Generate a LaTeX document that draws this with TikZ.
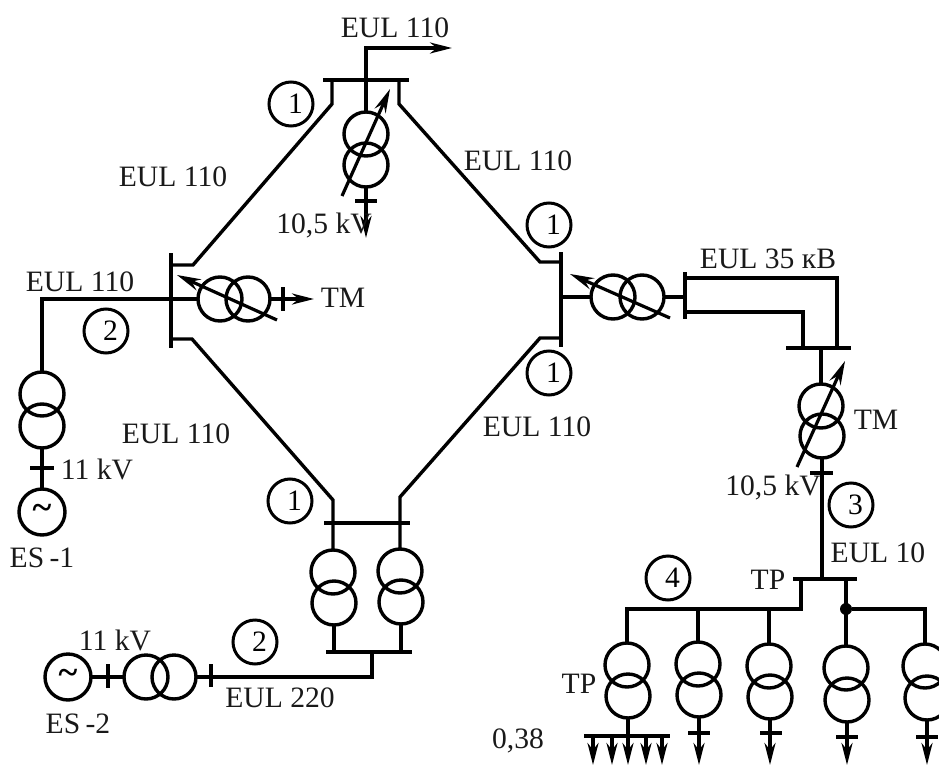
\documentclass[tikz,border=0pt]{standalone}
\usepackage{fontspec}
\setmainfont{Liberation Serif}
\usetikzlibrary{arrows.meta}
\newcommand{\numtext}[1]{\hspace*{9pt}#1}
\tikzset{
  x=1pt,y=-1pt,
  wire/.style={line width=3.4pt,line cap=butt,line join=miter},
  feed/.style={wire,-{Stealth[length=22pt,width=11pt,inset=7pt]}},
  reg/.style={line width=3.2pt,-{Stealth[length=24pt,width=12pt,inset=8pt]}},
  xf/.style={circle,draw,line width=3.4pt,minimum size=44pt,inner sep=0pt,outer sep=0pt},
  gen/.style={xf,minimum size=46pt,font=\fontsize{36}{36}\selectfont\bfseries},
  num/.style={circle,draw,line width=3pt,minimum size=44pt,inner sep=0pt,outer sep=0pt,font=\fontsize{29.6}{30}\selectfont},
  lbl/.style={inner sep=0pt,font=\fontsize{29.6}{30}\selectfont,text=black!90},
  dot/.style={circle,fill=black,minimum size=12pt,inner sep=0pt,outer sep=0pt}
}
\begin{document}
\begin{tikzpicture}
\clip (0,0) rectangle (939,765);
% transformers
\node[xf] (A1) at (366,134) {}; \node[xf] (A2) at (366,165) {};
\node[xf] (B1) at (220,299) {}; \node[xf] (B2) at (248,299) {};
\node[xf] (C1) at (613,297) {}; \node[xf] (C2) at (642,297) {};
\node[xf] (D1) at (821,406) {}; \node[xf] (D2) at (822,436) {};
\node[xf] (E1) at (42,394) {};  \node[xf] (E2) at (42,426) {};
\node[xf] (F1) at (333,572) {}; \node[xf] (F2) at (334,603) {};
\node[xf] (G1) at (400,571) {}; \node[xf] (G2) at (401,602) {};
\node[xf] (H1) at (146,677) {}; \node[xf] (H2) at (174,677) {};
\node[xf] (P1) at (627,665) {}; \node[xf] (P2) at (628,696) {};
\node[xf] (Q1) at (698,664) {}; \node[xf] (Q2) at (699,695) {};
\node[xf] (R1) at (769,666) {}; \node[xf] (R2) at (770,697) {};
\node[xf] (S1) at (846,668) {}; \node[xf] (S2) at (847,700) {};
\node[xf] (T1) at (925,666) {}; \node[xf] (T2) at (927,698) {};
% generators
\node[gen] (ES1) at (42,512) {\textasciitilde};
\node[gen] (ES2) at (68,677) {\textasciitilde};
% coordinates
\coordinate (topL) at (323,80); \coordinate (topR) at (409,80);
\coordinate (lT) at (171,253); \coordinate (lB) at (171,348);
\coordinate (rT) at (561,252); \coordinate (rB) at (561,347);
\coordinate (botL) at (324,523); \coordinate (botR) at (410,523);
\coordinate (b2L) at (326,652); \coordinate (b2R) at (412,652);
\coordinate (b3L) at (786,348); \coordinate (b3R) at (851,348);
\coordinate (b4L) at (793,579); \coordinate (b4R) at (857,579);
\coordinate (tb) at (685,272); \coordinate (tb2) at (685,319);
\coordinate (lv1) at (584,736); \coordinate (lv2) at (670,736);
% buses
\draw[wire] (topL) -- (topR);
\draw[wire] (lT) -- (lB);
\draw[wire] (rT) -- (rB);
\draw[wire] (botL) -- (botR);
\draw[wire] (b2L) -- (b2R);
\draw[wire] (b3L) -- (b3R);
\draw[wire] (b4L) -- (b4R);
\draw[wire] (tb) -- (tb2);
\draw[wire] (lv1) -- (lv2);
% ring lines
\draw[wire] (332,80) -- (332,104) -- (193,265) -- (171,265);
\draw[wire] (399,80) -- (399,104) -- (540,262) -- (561,262);
\draw[wire] (171,339) -- (192,339) -- (333,500) -- (F1.north);
\draw[wire] (561,338) -- (540,338) -- (400,497) -- (G1.north);
% top substation
\draw[feed] (A1.north) -- (366,48) -- (452,48);
\draw[feed] (A2.south) -- (366,238);
\draw[wire] (355,201) -- (377,201);
\draw[reg] (342,196) -- (390,89);
% left substation
\draw[wire] (B1.west) -- (42,299) -- (E1.north);
\draw[feed] (B2.east) -- (314,299);
\draw[wire] (283,287) -- (283,311);
\draw[reg] (277,320) -- (177,275);
% ES-1
\draw[wire] (E2.south) -- (ES1.north);
\draw[wire] (30,468) -- (54,468);
% right substation
\draw[wire] (561,297) -- (C1.west);
\draw[wire] (C2.east) -- (685,297);
\draw[reg] (670,318) -- (570,274);
\draw[wire] (685,278) -- (837,278) -- (837,348);
\draw[wire] (685,312) -- (803,312) -- (803,348);
\draw[wire] (821,348) -- (D1.north);
\draw[reg] (797,467) -- (845,361);
\draw[wire] (D2.south) -- (822,579);
\draw[wire] (810,473) -- (833,473);
% bottom substation
\draw[wire] (F2.south) -- (334,652);
\draw[wire] (G2.south) -- (401,652);
\draw[wire] (372,652) -- (372,677) -- (H2.east);
\draw[wire] (ES2.east) -- (H1.west);
\draw[wire] (108,664) -- (108,688);
\draw[wire] (211,664) -- (211,687);
% distribution
\draw[wire] (801,579) -- (801,609) -- (627,609) -- (P1.north);
\draw[wire] (698,609) -- (Q1.north);
\draw[wire] (769,609) -- (R1.north);
\draw[wire] (846,579) -- (S1.north);
\node[dot] (J) at (846,609) {};
\draw[wire] (J) -- (925,609) -- (T1.north);
% low-voltage outputs
\draw[wire] (P2.south) -- (628,736);
\foreach \x in {593,612,628,646,662}{\draw[feed] (\x,736) -- (\x,765);}
\draw[feed] (Q2.south) -- (699,765);
\draw[wire] (688,733) -- (710,733);
\draw[feed] (R2.south) -- (770,765);
\draw[wire] (760,733) -- (782,733);
\draw[feed] (S2.south) -- (847,765);
\draw[wire] (836,737) -- (858,737);
\draw[feed] (T2.south) -- (927,765);
\draw[wire] (916,737) -- (938,737);
% numbered circles
\node[num] (n1) at (291,104) {\numtext{1}};
\node[num] (n2) at (549,225) {\numtext{1}};
\node[num] (n3) at (549,373) {\numtext{1}};
\node[num] (n4) at (290,501) {\numtext{1}};
\node[num] (n5) at (106,331) {\numtext{2}};
\node[num] (n6) at (255,642) {\numtext{2}};
\node[num] (n7) at (851,505) {\numtext{3}};
\node[num] (n8) at (668,578) {\numtext{4}};
% labels
\node[lbl] (l1) at (395,28) {EUL 110};
\node[lbl] (l2) at (173,177) {EUL 110};
\node[lbl] (l3) at (518,161) {EUL 110};
\node[lbl] (l4) at (80,282) {EUL 110};
\node[lbl] (l5) at (176,434) {EUL 110};
\node[lbl] (l6) at (537,427) {EUL 110};
\node[lbl] (l7) at (768,259) {EUL 35 кВ};
\node[lbl] (l8) at (324,226) {10,5 kV};
\node[lbl] (l9) at (343,298) {TM};
\node[lbl] (l10) at (876,420) {TM};
\node[lbl] (l11) at (773,488) {10,5 kV};
\node[lbl] (l12) at (97,469) {11 kV};
\node[lbl] (l13) at (115,640) {11 kV};
\node[lbl] (l14) at (42,558) {ES\hspace{-2pt} -1};
\node[lbl] (l15) at (78,724) {ES\hspace{-2pt} -2};
\node[lbl] (l16) at (280,698) {EUL 220};
\node[lbl] (l17) at (878,553) {EUL 10};
\node[lbl] (l18) at (768,580) {TP};
\node[lbl] (l19) at (579,684) {TP};
\node[lbl] (l20) at (518,741) {0,38};
\end{tikzpicture}
\end{document}
